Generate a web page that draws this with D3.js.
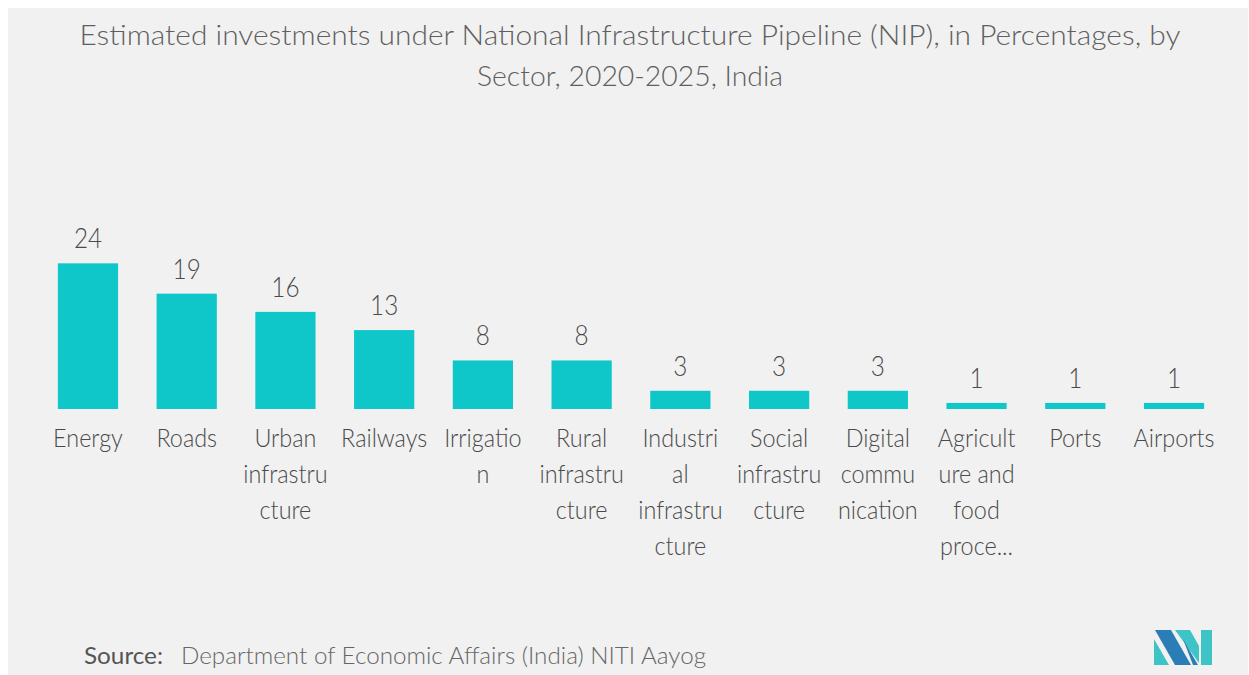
<!DOCTYPE html>
<html>
<head>
<meta charset="utf-8">
<script src="https://cdn.jsdelivr.net/npm/d3@7"></script>
<style>
  html, body { margin: 0; padding: 0; background: #fff; }
  text { font-family: Lato, "Open Sans", sans-serif; }
</style>
</head>
<body>
<svg id="chart" width="1249" height="675"></svg>
<script>
// Data
const categories = ['Energy', 'Roads', 'Urban infrastructure', 'Railways', 'Irrigation', 'Rural infrastructure',
  'Industrial infrastructure', 'Social infrastructure', 'Digital communication',
  'Agriculture and food processing', 'Ports', 'Airports']
const values = [24, 19, 16, 13, 8, 8, 3, 3, 3, 1, 1, 1]
const tickLabels = [
  ['Energy'], ['Roads'], ['Urban', 'infrastru', 'cture'], ['Railways'], ['Irrigatio', 'n'],
  ['Rural', 'infrastru', 'cture'], ['Industri', 'al', 'infrastru', 'cture'], ['Social', 'infrastru', 'cture'],
  ['Digital', 'commu', 'nication'], ['Agricult', 'ure and', 'food', 'proce...'], ['Ports'], ['Airports']
]
const titleLines = ['Estimated investments under National Infrastructure Pipeline (NIP), in Percentages, by',
  'Sector, 2020-2025, India']

const W = 1249, H = 675
const squeeze = 0.9   // the original face is a bit narrower than Lato
const svg = d3.select('#chart')

// panel background
svg.append('rect')
    .attr('x', 8).attr('y', 8)
    .attr('width', W - 9).attr('height', H - 8)
    .attr('fill', '#f1f1f1')

// title
const titleWidths = [1101, 306]
svg.append('g').selectAll('text')
  .data(titleLines)
  .join('text')
    .attr('x', 630)
    .attr('y', (d, i) => 45 + i * 41)
    .attr('text-anchor', 'middle')
    .attr('font-size', 28)
    .attr('font-weight', 300)
    .attr('fill', '#5f5f5f')
    .attr('textLength', (d, i) => titleWidths[i])
    .attr('lengthAdjust', 'spacingAndGlyphs')
    .text(d => d)

// scales
const x = d3.scaleBand()
    .domain(categories)
    .range([38.6, 1223.4])
    .paddingInner(0.39)
    .paddingOuter(0.195)

const y = d3.scaleLinear()
    .domain([0, 25])
    .range([409, 257.25])

const cx = i => x(categories[i]) + x.bandwidth() / 2

// bars
svg.append('g').selectAll('rect')
  .data(values)
  .join('rect')
    .attr('x', (d, i) => x(categories[i]))
    .attr('y', d => y(d))
    .attr('width', x.bandwidth())
    .attr('height', d => y(0) - y(d))
    .attr('fill', '#0fc6c8')

// value labels
svg.append('g').selectAll('text')
  .data(values)
  .join('text')
    .attr('transform', (d, i) => `translate(${cx(i)},${y(d) - 15}) scale(${squeeze},1)`)
    .attr('text-anchor', 'middle')
    .attr('font-size', 27)
    .attr('font-weight', 300)
    .attr('fill', '#4a4a4a')
    .text(d => d)

// category labels (x axis, no line)
svg.append('g').selectAll('text')
  .data(tickLabels)
  .join('text')
    .attr('transform', (d, i) => `translate(${cx(i)},447) scale(${squeeze},1)`)
    .attr('text-anchor', 'middle')
    .attr('font-size', 26)
    .attr('font-weight', 300)
    .attr('fill', '#4a4a4a')
  .selectAll('tspan')
  .data(d => d)
  .join('tspan')
    .attr('x', 0)
    .attr('dy', (d, i) => i === 0 ? 0 : 36)
    .text(d => d)

// source
const source = svg.append('text')
    .attr('x', 84)
    .attr('y', 664)
    .attr('font-size', 24)
source.append('tspan')
    .attr('fill', '#555')
    .attr('font-weight', 400)
    .attr('textLength', 79)
    .attr('lengthAdjust', 'spacingAndGlyphs')
    .text('Source:')
source.append('tspan')
    .attr('x', 181)
    .attr('fill', '#666')
    .attr('font-weight', 300)
    .attr('textLength', 525)
    .attr('lengthAdjust', 'spacingAndGlyphs')
    .text('Department of Economic Affairs (India) NITI Aayog')

// logo
const logo = svg.append('g').attr('transform', 'translate(1154,630)')
const teal = '#3ec3c6', blue = '#2a7db5'
const shapes = [
  { pts: [[0, 9], [0, 35], [15, 35]], c: teal },
  { pts: [[1, 0], [17, 0], [37, 35], [21, 35]], c: blue },
  { pts: [[21, 0], [36, 0], [45, 16], [45, 33]], c: teal },
  { pts: [[29, 9], [44, 35], [39, 35]], c: blue },
  { pts: [[47, 0], [58, 0], [58, 35], [47, 35]], c: teal }
]
logo.selectAll('polygon')
  .data(shapes)
  .join('polygon')
    .attr('points', d => d.pts.map(p => p.join(',')).join(' '))
    .attr('fill', d => d.c)
</script>
</body>
</html>
